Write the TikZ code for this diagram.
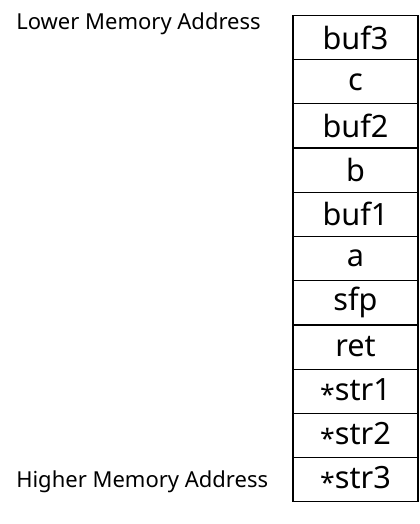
\documentclass[tikz,border=0pt]{standalone}
\usepackage{fontspec}
\setmainfont{Noto Sans}
\newcommand{\myast}{\raisebox{-3pt}{\fontsize{20}{20}\selectfont *}}
\begin{document}
\begin{tikzpicture}[x=0.75pt,y=-0.75pt,
  cell/.style={draw,line width=0.9pt,outer sep=0pt,minimum width=93.75pt,minimum height=33.15pt,inner sep=0pt,font=\fontsize{23}{25}\selectfont,anchor=north},
  side/.style={anchor=west,inner sep=0pt,font=\fontsize{16.5}{18}\selectfont}]
\useasboundingbox (0,0) rectangle (419,524);
\node[cell] (r1) at (355.5,15.5) {buf3};
\node[cell] (r2) at (r1.south) {c};
\node[cell] (r3) at (r2.south) {buf2};
\node[cell] (r4) at (r3.south) {b};
\node[cell] (r5) at (r4.south) {buf1};
\node[cell] (r6) at (r5.south) {a};
\node[cell] (r7) at (r6.south) {sfp};
\node[cell] (r8) at (r7.south) {ret};
\node[cell] (r9) at (r8.south) {\myast str1};
\node[cell] (r10) at (r9.south) {\myast str2};
\node[cell] (r11) at (r10.south) {\myast str3};
\node[side] (lo) at (16,24) {Lower Memory Address};
\node[side] (hi) at (16,482) {Higher Memory Address};
\end{tikzpicture}
\end{document}
